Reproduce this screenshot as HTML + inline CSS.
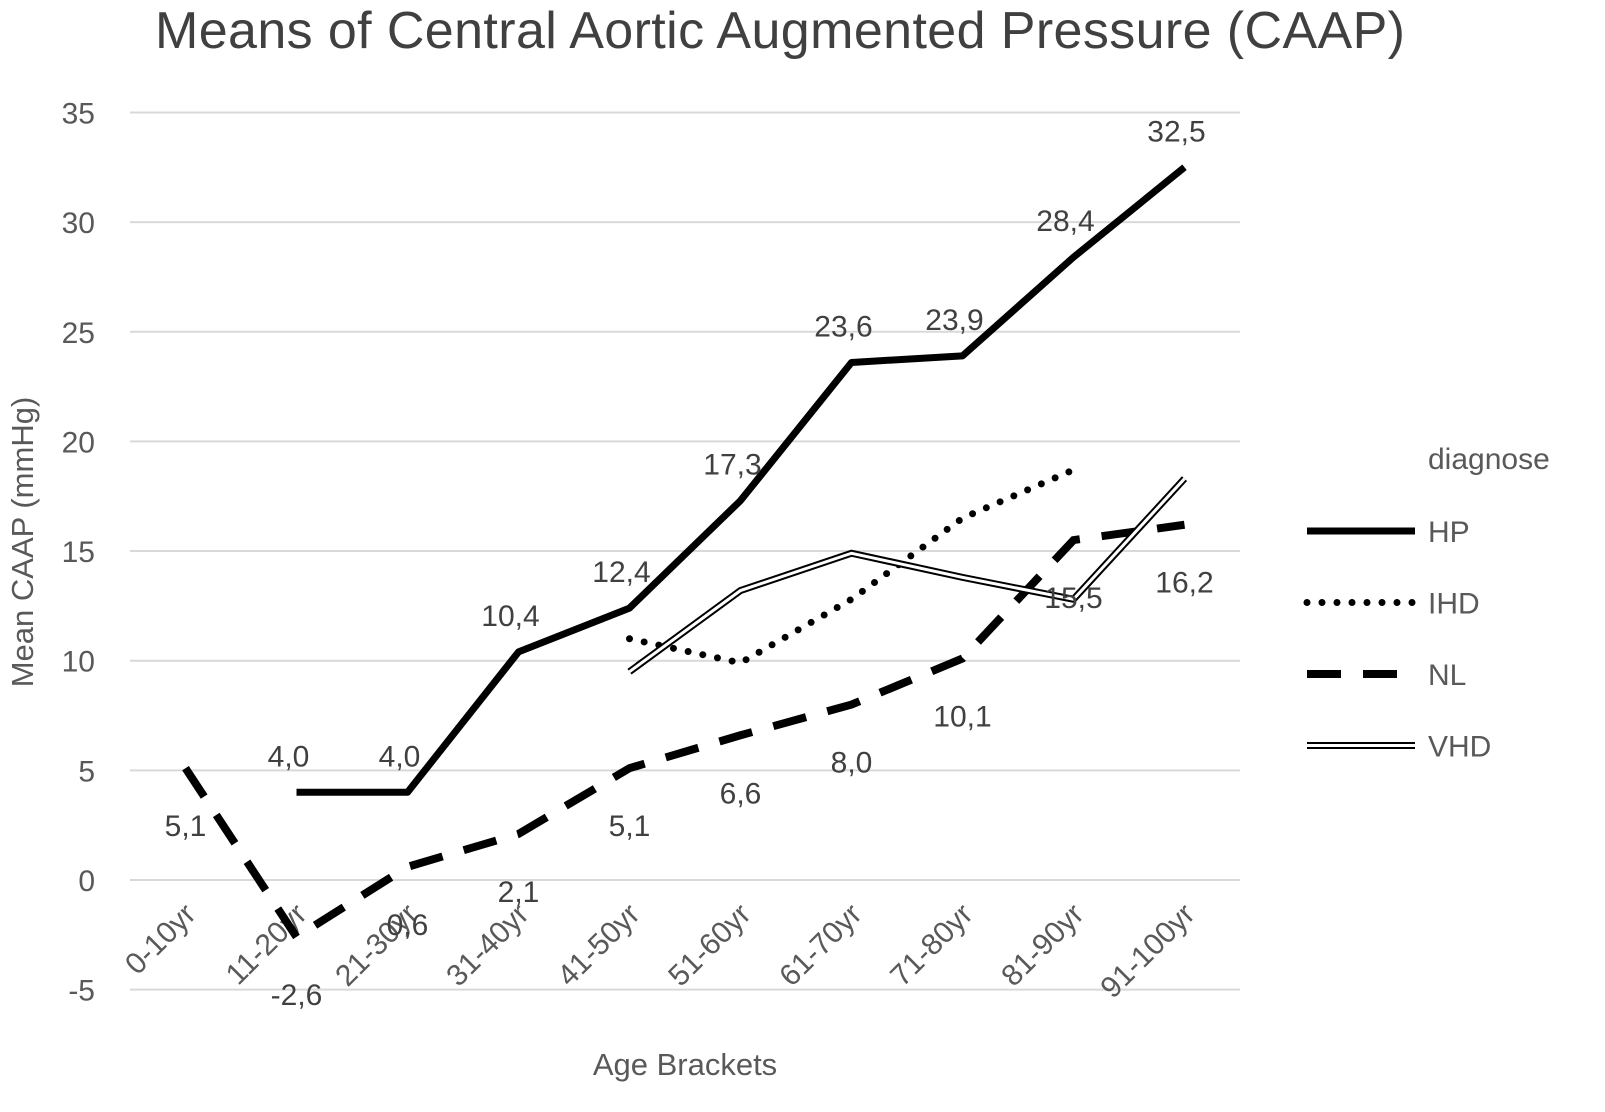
<!DOCTYPE html>
<html><head><meta charset="utf-8"><style>
body{margin:0;background:#fff;}
svg{display:block;font-family:"Liberation Sans",Calibri,sans-serif;}
</style></head><body>
<svg id="chart" width="1605" height="1112" viewBox="0 0 1605 1112">
<text x="780" y="48" font-size="52" fill="#404040" text-anchor="middle" textLength="1250">Means of Central Aortic Augmented Pressure (CAAP)</text>
<g id="grid"></g><g id="series"></g><g id="labels"></g>
<text transform="translate(33,542) rotate(-90)" font-size="31" fill="#595959" text-anchor="middle">Mean  CAAP (mmHg)</text>
<text x="685" y="1075" font-size="31" fill="#595959" text-anchor="middle">Age Brackets</text>
<g id="legend"></g>
</svg>
<script>
const categories=["0-10yr","11-20yr","21-30yr","31-40yr","41-50yr","51-60yr","61-70yr","71-80yr","81-90yr","91-100yr"];
const hp=[null,4.0,4.0,10.4,12.4,17.3,23.6,23.9,28.4,32.5];
const ihd=[null,null,null,null,11.0,9.9,12.8,16.5,18.7,null];
const nl=[5.1,-2.6,0.6,2.1,5.1,6.6,8.0,10.1,15.5,16.2];
const vhd=[null,null,null,null,9.5,13.2,14.9,13.8,12.8,18.3];
const yTicks=[-5,0,5,10,15,20,25,30,35];
const NS="http://www.w3.org/2000/svg";
const X0=130,CW=111,Y0=880,PU=21.93;
const x=i=>X0+CW/2+CW*i, y=v=>Y0-v*PU;
function mk(t,a,p){const e=document.createElementNS(NS,t);for(const k in a)e.setAttribute(k,a[k]);document.getElementById(p).appendChild(e);return e;}
yTicks.forEach(v=>{
 const l=mk('line',{x1:X0,x2:X0+CW*10,y1:y(v),y2:y(v),stroke:'#d9d9d9','stroke-width':2},'grid');
 
 
 const t=mk('text',{x:95,y:y(v)+11,'font-size':30,fill:'#595959','text-anchor':'end'},'grid');
 t.textContent=v;
 
 
});
categories.forEach((c,i)=>{
 const t=mk('text',{transform:`translate(${x(i)+12},${y(0)+36}) rotate(-45)`,'font-size':30,fill:'#595959','text-anchor':'end'},'grid');
 t.textContent=c;
 
 
});
function pts(arr){return arr.map((v,i)=>v==null?null:x(i)+','+y(v)).filter(Boolean).join(' ');}
const styles={
 hp:[{stroke:'#000','stroke-width':7,'stroke-linejoin':'round'}],
 ihd:[{stroke:'#000','stroke-width':7,'stroke-dasharray':'0 15','stroke-linecap':'round'}],
 nl:[{stroke:'#000','stroke-width':8,'stroke-dasharray':'34 22'}],
 vhd:[{stroke:'#000','stroke-width':7},{stroke:'#fff','stroke-width':3}]
};
const data={hp,ihd,nl,vhd};
for(const k in data){styles[k].forEach(s=>{
 const p=mk('polyline',Object.assign({points:pts(data[k]),fill:'none'},s),'series');
 
 
});}
hp.forEach((v,i)=>{if(v==null)return;
 const t=mk('text',{x:x(i)-8,y:y(v)-26,'font-size':30,fill:'#404040','text-anchor':'middle'},'labels');
 t.textContent=v.toFixed(1).replace('.',',');
 
 
});
nl.forEach((v,i)=>{
 const t=mk('text',{x:x(i),y:y(v)+68,'font-size':30,fill:'#404040','text-anchor':'middle'},'labels');
 t.textContent=v.toFixed(1).replace('.',',');
 
 
});
const lt=mk('text',{x:1428,y:469,'font-size':30,fill:'#595959'},'legend');
lt.textContent='diagnose';


['hp','ihd','nl','vhd'].forEach((k,j)=>{
 const ly=531+j*71.5;
 styles[k].forEach(s=>{
  const l=mk('line',Object.assign({x1:1307,x2:1415,y1:ly,y2:ly},s),'legend');
  
  
 });
 const t=mk('text',{x:1428,y:ly+11,'font-size':30,fill:'#595959'},'legend');
 t.textContent=k.toUpperCase();
 
 
});
</script>
</body></html>
